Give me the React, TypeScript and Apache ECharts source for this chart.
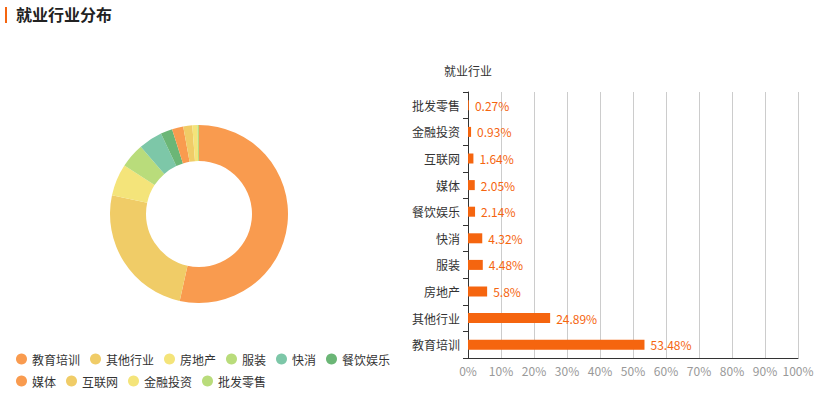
import React, { useEffect, useRef } from "react";
import * as echarts from "echarts";

const categories = ["教育培训", "其他行业", "房地产", "服装", "快消", "餐饮娱乐", "媒体", "互联网", "金融投资", "批发零售"];
const values = [53.48, 24.89, 5.8, 4.48, 4.32, 2.14, 2.05, 1.64, 0.93, 0.27];
const pieColors = ["#f99b4f", "#f0cc67", "#f4e47a", "#b9dc7b", "#7dc7a8", "#6bb676"];
const FONT = "'Noto Sans CJK SC', 'Microsoft YaHei', sans-serif";

export default function App() {
  const ref = useRef<HTMLDivElement>(null);
  useEffect(() => {
    const chart = echarts.init(ref.current!, null, { renderer: "svg" });
    chart.setOption({
      animation: false,
      textStyle: { fontFamily: FONT },
      graphic: [
        { type: "rect", left: 5, top: 7, shape: { width: 2, height: 16 }, style: { fill: "#f5650f" } },
        {
          type: "text",
          left: 16,
          top: 6,
          style: { text: "就业行业分布", fontSize: 16, fontWeight: "bold", fill: "#222", fontFamily: FONT },
        },
      ],
      legend: {
        left: 11,
        top: 348,
        width: 380,
        icon: "circle",
        itemWidth: 11,
        itemHeight: 11,
        itemGap: 10,
        textStyle: { fontSize: 12, color: "#333", fontFamily: FONT },
        data: categories,
      },
      grid: { left: 468, right: 34, top: 92, bottom: 39 },
      xAxis: {
        type: "value",
        min: 0,
        max: 100,
        interval: 10,
        axisLine: { show: true, lineStyle: { color: "#333" } },
        axisTick: { show: false },
        axisLabel: { formatter: "{value}%", color: "#999", fontSize: 12, margin: 6, fontFamily: FONT },
        splitLine: { show: true, lineStyle: { color: "#ccc" } },
      },
      yAxis: {
        type: "category",
        data: categories,
        name: "就业行业",
        nameGap: 16,
        nameTextStyle: { color: "#333", fontSize: 12, fontFamily: FONT },
        axisLine: { show: true, lineStyle: { color: "#333" } },
        axisTick: { show: true },
        axisLabel: { color: "#333", fontSize: 12, fontFamily: FONT },
      },
      series: [
        {
          type: "pie",
          center: [199, 214],
          radius: [53, 89],
          startAngle: 90,
          label: { show: false },
          labelLine: { show: false },
          color: pieColors,
          data: categories.map((c, i) => ({ name: c, value: values[i] })),
        },
        {
          type: "bar",
          data: values,
          barWidth: 10,
          itemStyle: { color: "#f5650f" },
          label: {
            show: true,
            position: "right",
            distance: 6,
            formatter: "{c}%",
            color: "#f5650f",
            fontSize: 12,
            fontFamily: FONT,
          },
        },
      ],
    });
    return () => chart.dispose();
  }, []);
  return <div ref={ref} style={{ width: 832, height: 397, position: "absolute", left: 0, top: 0 }} />;
}
